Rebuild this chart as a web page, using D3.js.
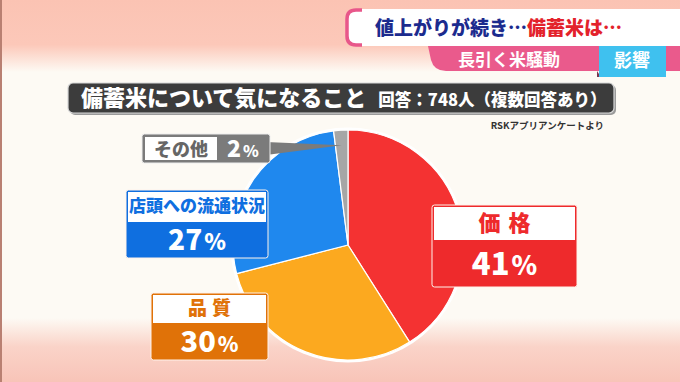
<!DOCTYPE html>
<html>
<head>
<meta charset="utf-8">
<script src="https://cdn.jsdelivr.net/npm/d3@7"></script>
<style>
  html, body { margin: 0; padding: 0; background: #fdfaf4; }
  svg { display: block; font-family: "Noto Sans CJK JP", "Noto Sans", sans-serif; }
</style>
</head>
<body>
<div id="chart"></div>
<script>
// data
const categories = ['価格', '品質', '店頭への流通状況', 'その他'];
const values = [41, 30, 27, 2];
const sliceColors = ['#f4363a', '#fca91f', '#1f88ee', '#a6a6a6'];
const labelColors = ['#ee2a2c', '#e07208', '#0f6fe0', '#7b7b7b'];

const W = 680, H = 382;
const cx = 348, cy = 245, radius = 115;
const heavy = 900;

const svg = d3.select('#chart').append('svg').attr('width', W).attr('height', H);
const defs = svg.append('defs');

// background
const bgTop = defs.append('linearGradient').attr('id', 'bgTop').attr('x1', 0).attr('y1', 0).attr('x2', 0).attr('y2', 1);
bgTop.append('stop').attr('offset', '0%').attr('stop-color', '#fbc3b3');
bgTop.append('stop').attr('offset', '62%').attr('stop-color', '#fcc8b9');
bgTop.append('stop').attr('offset', '100%').attr('stop-color', '#fdfaf4');
const bgBot = defs.append('linearGradient').attr('id', 'bgBot').attr('x1', 0).attr('y1', 0).attr('x2', 0).attr('y2', 1);
bgBot.append('stop').attr('offset', '0%').attr('stop-color', '#fdfaf4');
bgBot.append('stop').attr('offset', '45%').attr('stop-color', '#fad3c8');
bgBot.append('stop').attr('offset', '100%').attr('stop-color', '#f8c4b8');

svg.append('rect').attr('width', W).attr('height', H).attr('fill', '#fdfaf4');
svg.append('rect').attr('width', W).attr('height', 72).attr('fill', 'url(#bgTop)');
svg.append('rect').attr('y', 318).attr('width', W).attr('height', H - 318).attr('fill', 'url(#bgBot)');
svg.append('rect').attr('width', 2).attr('height', H).attr('fill', '#b98072');

// header
const hdr = svg.append('g');
hdr.append('path')
  .attr('d', 'M428,46 L680,46 L680,71 L446,71 Q434,71 431,60 Z')
  .attr('fill', '#ea5a8c');
hdr.append('text').attr('x', 458).attr('y', 66).attr('fill', '#fff')
  .attr('font-size', 17).attr('font-weight', 700).text('長引く米騒動');
hdr.append('path').attr('d', 'M597,71 L597,77 L601,77 Z').attr('fill', '#7a3550');
hdr.append('rect').attr('x', 599).attr('y', 45).attr('width', 67).attr('height', 32).attr('fill', '#3fc1ef');
hdr.append('text').attr('x', 632).attr('y', 67).attr('text-anchor', 'middle').attr('fill', '#fff')
  .attr('font-size', 18).attr('font-weight', 700).text('影響');

hdr.append('rect').attr('x', 346).attr('y', 9).attr('width', 360).attr('height', 37).attr('rx', 9)
  .attr('fill', '#ffffff');
hdr.append('path')
  .attr('d', 'M362,10 L356,10 Q347,10 347,19 L347,36 Q347,45 356,45 L362,45')
  .attr('fill', 'none').attr('stroke', '#e8578a').attr('stroke-width', 3.5);
const hText = hdr.append('text').attr('x', 375).attr('y', 35)
  .attr('font-size', 19).attr('font-weight', heavy);
hText.append('tspan').attr('fill', '#1c2b8e').text('値上がりが続き…');
hText.append('tspan').attr('fill', '#e3222b').text('備蓄米は…');

// title bar
svg.append('rect').attr('x', 70).attr('y', 85).attr('width', 546).attr('height', 30).attr('rx', 5)
  .attr('fill', '#9a9a9a');
svg.append('rect').attr('x', 68).attr('y', 83).attr('width', 546).attr('height', 30).attr('rx', 5)
  .attr('fill', '#3c3c3c').attr('stroke', '#d8d8d8').attr('stroke-width', 1.2);
const tText = svg.append('text').attr('x', 81).attr('y', 106).attr('fill', '#fff').attr('font-weight', heavy);
tText.append('tspan').attr('font-size', 22).text('備蓄米について気になること');
tText.append('tspan').attr('dx', 12).attr('font-size', 16.5).text('回答：748人（複数回答あり）');

svg.append('text').attr('x', 604).attr('y', 129).attr('text-anchor', 'end')
  .attr('fill', '#333').attr('font-size', 9.5).attr('font-weight', 700).text('RSKアプリアンケートより');

// pie
const redGrad = defs.append('radialGradient').attr('id', 'gradRed')
  .attr('gradientUnits', 'userSpaceOnUse').attr('cx', cx + 25).attr('cy', cy - 25).attr('r', radius);
redGrad.append('stop').attr('offset', '0%').attr('stop-color', '#fb4654');
redGrad.append('stop').attr('offset', '100%').attr('stop-color', '#f43232');
const fills = ['url(#gradRed)', sliceColors[1], sliceColors[2], sliceColors[3]];

const pie = d3.pie().sort(null).value(d => d);
const arcs = pie(values);
const arc = d3.arc().innerRadius(0).outerRadius(radius);

const pg = svg.append('g').attr('transform', `translate(${cx},${cy})`);
pg.append('circle').attr('r', radius + 2.5).attr('fill', '#ffffff');
pg.selectAll('path.slice').data(arcs).join('path')
  .attr('class', 'slice')
  .attr('d', arc)
  .attr('fill', (d, i) => fills[i])
  .attr('stroke', '#ffffff').attr('stroke-width', 1.2).attr('stroke-linejoin', 'round');

// labels
function pctText(sel, value, big, small) {
  sel.append('tspan').attr('font-size', big).text(value);
  sel.append('tspan').attr('font-size', small).attr('dx', 2).text('%');
}

function stackedLabel(i, x, y, w, h1, h2, nameSize, spacing, numSize, pSize) {
  const g = svg.append('g');
  g.append('rect').attr('x', x).attr('y', y).attr('width', w).attr('height', h1 + h2).attr('rx', 2.5)
    .attr('fill', labelColors[i]).attr('stroke', '#fff2ea').attr('stroke-width', 1);
  g.append('rect').attr('x', x + 2).attr('y', y + 2).attr('width', w - 4).attr('height', h1 - 2)
    .attr('fill', '#ffffff');
  g.append('text').attr('x', x + w / 2 + spacing / 2).attr('y', y + h1 / 2 + nameSize * 0.38)
    .attr('text-anchor', 'middle').attr('fill', labelColors[i])
    .attr('font-size', nameSize).attr('font-weight', heavy).attr('letter-spacing', spacing)
    .text(categories[i]);
  const t = g.append('text').attr('x', x + w / 2).attr('y', y + h1 + h2 / 2 + numSize * 0.36)
    .attr('text-anchor', 'middle').attr('fill', '#fff').attr('font-weight', heavy);
  pctText(t, values[i], numSize, pSize);
}

stackedLabel(0, 432, 205, 145, 35, 47, 22, 8, 31, 26);
stackedLabel(1, 151, 293, 117, 30, 37, 19, 5, 29, 21);
stackedLabel(2, 126, 190, 142, 32, 36, 17, 0, 28, 22);

// その他 label with pointer
const o = arcs[3];
const oMid = (o.startAngle + o.endAngle) / 2;
const tipR = radius * 0.87;
const tip = [cx + Math.sin(oMid) * tipR, cy - Math.cos(oMid) * tipR];
const og = svg.append('g');
og.append('path')
  .attr('d', `M266,142 L${tip[0]},${tip[1]} L266,155 Z`)
  .attr('fill', labelColors[3]);
og.append('rect').attr('x', 142).attr('y', 134).attr('width', 128).attr('height', 29).attr('rx', 2.5)
  .attr('fill', labelColors[3]).attr('stroke', '#eeeeee').attr('stroke-width', 1);
og.append('rect').attr('x', 145).attr('y', 137).attr('width', 72).attr('height', 23)
  .attr('fill', '#ffffff');
og.append('text').attr('x', 181).attr('y', 156).attr('text-anchor', 'middle')
  .attr('fill', '#666').attr('font-size', 18).attr('font-weight', heavy).text(categories[3]);
const ot = og.append('text').attr('x', 243).attr('y', 157).attr('text-anchor', 'middle')
  .attr('fill', '#fff').attr('font-weight', heavy);
pctText(ot, values[3], 23, 16);
</script>
</body>
</html>
